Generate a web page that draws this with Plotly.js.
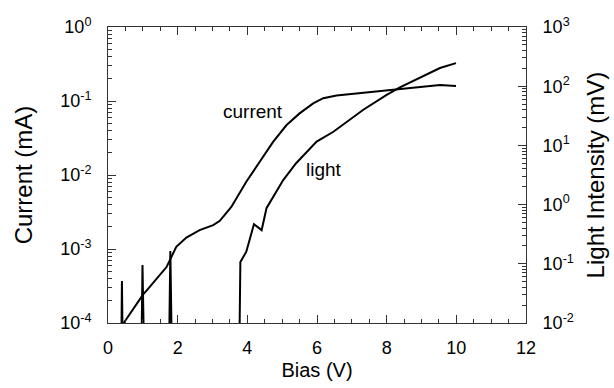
<!DOCTYPE html>
<html>
<head>
<meta charset="utf-8">
<script src="https://cdn.plot.ly/plotly-3.0.1.min.js"></script>
<style>html,body{margin:0;padding:0;background:#fff;}#chart{width:614px;height:388px;}</style>
</head>
<body>
<div id="chart"></div>
<script>
// Current (mA), left axis
const currentBias = [0.45, 1.0, 1.15, 1.68, 1.96, 2.1, 2.25, 2.63, 3.02, 3.21, 3.54, 3.97, 4.45, 4.74, 5.12, 5.5, 5.89, 6.18, 6.56, 7.42, 8.19, 8.86, 9.53, 9.99];
const currentVals = [1.0e-4, 2.4e-4, 2.9e-4, 5.7e-4, 1.07e-3, 1.25e-3, 1.43e-3, 1.8e-3, 2.1e-3, 2.4e-3, 3.7e-3, 8.1e-3, 1.78e-2, 2.8e-2, 4.7e-2, 6.8e-2, 9.3e-2, 0.109, 0.119, 0.130, 0.141, 0.152, 0.164, 0.160];
// Light intensity (mV), right axis (values below 1e-2 are off-scale)
const lightBias = [0.30, 0.36, 0.40, 0.45, 0.93, 0.99, 1.08, 1.72, 1.79, 1.87, 3.74, 3.80, 3.97, 4.19, 4.41, 4.55, 5.03, 5.40, 5.99, 6.47, 7.33, 8.00, 8.38, 8.96, 9.53, 9.99];
const lightVals = [1e-4, 1e-4, 0.051, 1e-4, 1e-4, 0.095, 1e-4, 1e-4, 0.164, 1e-4, 1e-4, 0.107, 0.16, 0.468, 0.37, 0.87, 2.6, 5.0, 11.6, 17, 40, 71.6, 95.8, 141, 203, 245];

const xTicks = [0, 2, 4, 6, 8, 10, 12];
const leftTickVals = [1e-4, 1e-3, 1e-2, 1e-1, 1];
const leftTickText = ["10<sup>-4</sup>", "10<sup>-3</sup>", "10<sup>-2</sup>", "10<sup>-1</sup>", "10<sup>0</sup>"];
const rightTickVals = [1e-2, 1e-1, 1, 10, 100, 1000];
const rightTickText = ["10<sup>-2</sup>", "10<sup>-1</sup>", "10<sup>0</sup>", "10<sup>1</sup>", "10<sup>2</sup>", "10<sup>3</sup>"];
const seriesLabels = ["current", "light"];
const labelPos = {current: [4.16, 0.073], light: [6.21, 0.0118]};

// minor tick positions (2..9 within each decade)
function minorLog(decades) {
  const out = [];
  decades.slice(0, -1).forEach(d => { for (let k = 2; k <= 9; k++) out.push(k * d); });
  return out;
}

const FONT = "Liberation Sans, Arial, Helvetica, sans-serif";
const AX = "#333";

const traces = [
  {x: currentBias, y: currentVals, type: "scatter", mode: "lines", name: seriesLabels[0],
   line: {color: "#000", width: 2}, yaxis: "y"},
  {x: lightBias, y: lightVals, type: "scatter", mode: "lines", name: seriesLabels[1],
   line: {color: "#000", width: 2}, yaxis: "y2"}
];

const layout = {
  width: 614, height: 388,
  margin: {l: 108, r: 88, t: 27, b: 65},
  paper_bgcolor: "#fff", plot_bgcolor: "#fff",
  showlegend: false,
  font: {family: FONT, size: 18, color: "#000"},
  xaxis: {
    range: [0, 12], tickvals: xTicks, ticktext: xTicks.map(String),
    showgrid: false, zeroline: false, showline: true, linecolor: AX, linewidth: 1,
    ticks: "inside", ticklen: 8, tickcolor: AX, mirror: "ticks",
    minor: {dtick: 0.5, ticks: "inside", ticklen: 4, tickcolor: AX, showgrid: false},
    ticklabelstandoff: 8,
    title: {text: "Bias (V)", font: {size: 20}, standoff: 6},
    tickfont: {size: 18}
  },
  yaxis: {
    type: "log", range: [-4, 0], tickvals: leftTickVals, ticktext: leftTickText,
    showgrid: false, zeroline: false, showline: true, linecolor: AX, linewidth: 1,
    ticks: "inside", ticklen: 8, tickcolor: AX,
    minor: {tickvals: minorLog(leftTickVals), ticks: "inside", ticklen: 4, tickcolor: AX, showgrid: false},
    ticklabelstandoff: 12,
    title: {text: "Current (mA)", font: {size: 24}, standoff: 20},
    tickfont: {size: 18}
  },
  yaxis2: {
    type: "log", range: [-2, 3], overlaying: "y", side: "right",
    tickvals: rightTickVals, ticktext: rightTickText,
    showgrid: false, zeroline: false, showline: true, linecolor: AX, linewidth: 1,
    ticks: "inside", ticklen: 8, tickcolor: AX,
    minor: {tickvals: minorLog(rightTickVals), ticks: "inside", ticklen: 4, tickcolor: AX, showgrid: false},
    ticklabelstandoff: 12,
    title: {text: "Light Intensity (mV)", font: {size: 24}, standoff: 14},
    tickfont: {size: 18}
  },
  annotations: seriesLabels.map(s => ({
    x: labelPos[s][0], y: Math.log10(labelPos[s][1]), xref: "x", yref: "y",
    text: s, showarrow: false, font: {size: 19}
  }))
};

Plotly.newPlot("chart", traces, layout, {displayModeBar: false, staticPlot: true});
</script>
</body>
</html>
